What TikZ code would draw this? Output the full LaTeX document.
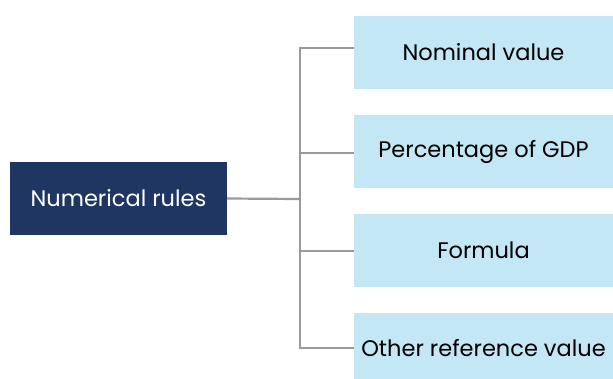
\documentclass[tikz,border=0pt]{standalone}
\usepackage{fontspec}
\setmainfont{Poppins}
\definecolor{navy}{HTML}{1F3562}
\definecolor{lightblue}{HTML}{C4E7F6}
\definecolor{linegray}{HTML}{9A9A9A}
\begin{document}
\begin{tikzpicture}[x=1pt,y=-1pt,
  leaf/.style={fill=lightblue, text=black, minimum width=259pt, minimum height=73pt, inner sep=0pt, font=\fontsize{22.5}{27}\selectfont},
  root/.style={fill=navy, text=white, minimum width=217pt, minimum height=73pt, inner sep=0pt, font=\fontsize{22.5}{27}\selectfont},
  link/.style={draw=linegray, line width=2.2pt}]
\useasboundingbox (0,0) rectangle (613,378);
\node[root] (root) at (118.5,198.5) {Numerical rules};
\node[leaf] (b1) at (483.5,52.5) {Nominal value};
\node[leaf] (b2) at (483.5,151.5) {Percentage of GDP};
\node[leaf] (b3) at (483.5,250.5) {Formula};
\node[leaf, minimum height=70pt] (b4) at (483.5,348) {Other reference value};
\coordinate (spine) at (300,199);
\draw[link] (root.east) -- (spine);
\draw[link] ([yshift=4.5pt]b1.west) -| (spine);
\draw[link] ([yshift=-1.5pt]b2.west) -| (spine);
\draw[link] ([yshift=-0.5pt]b3.west) -| (spine);
\draw[link] (b4.west) -| (spine);
\end{tikzpicture}
\end{document}
